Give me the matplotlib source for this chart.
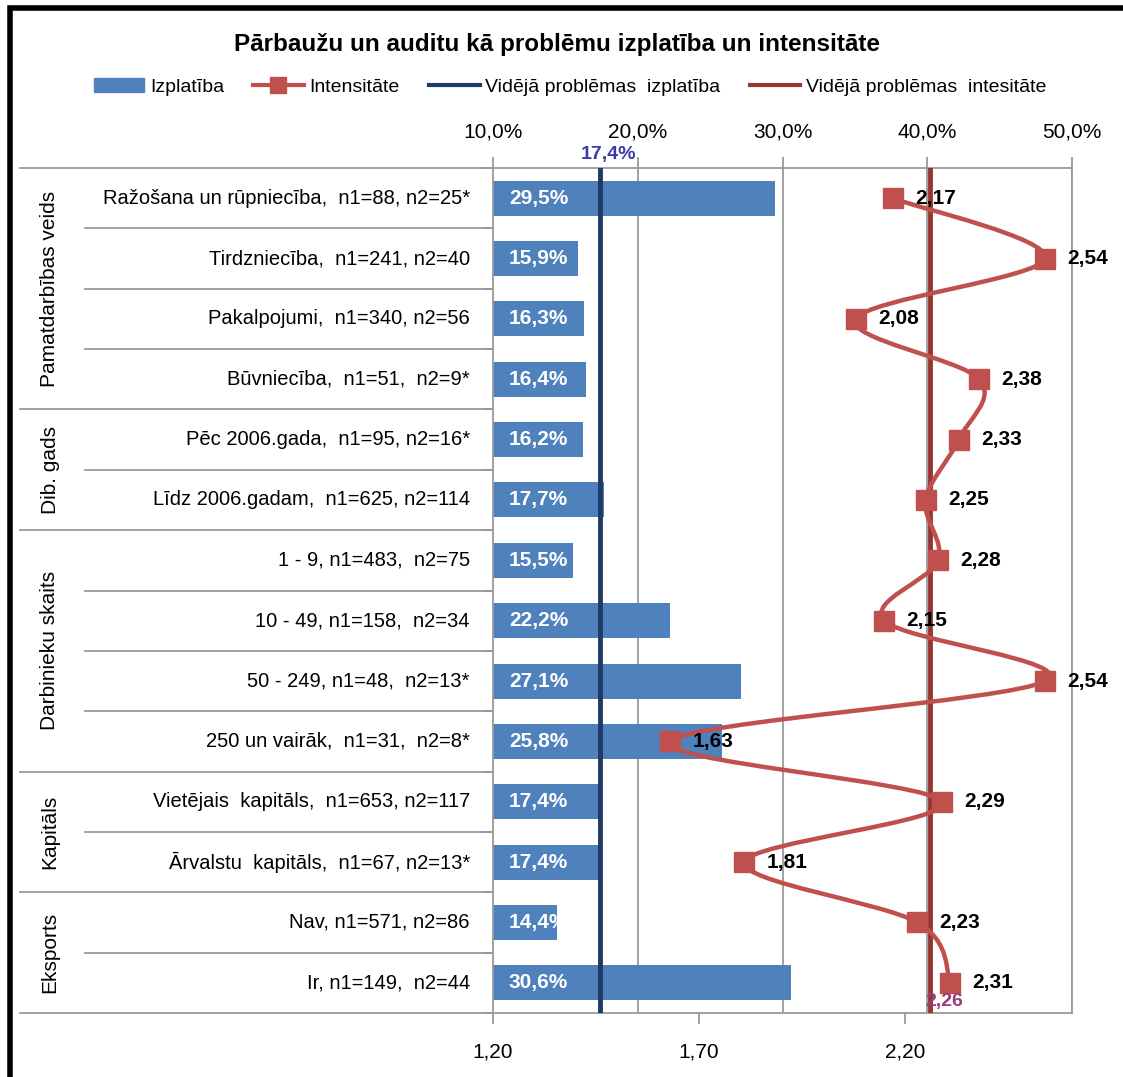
import matplotlib
matplotlib.use('Agg')
import matplotlib.pyplot as plt
from matplotlib.path import Path
from matplotlib.patches import PathPatch, Rectangle, Patch
from matplotlib.lines import Line2D
import matplotlib.transforms as mtransforms

plt.rcParams['font.family'] = ['Liberation Sans Narrow', 'Liberation Sans', 'DejaVu Sans']

labels = ['Ražošana un rūpniecība,  n1=88, n2=25*',
          'Tirdzniecība,  n1=241, n2=40',
          'Pakalpojumi,  n1=340, n2=56',
          'Būvniecība,  n1=51,  n2=9*',
          'Pēc 2006.gada,  n1=95, n2=16*',
          'Līdz 2006.gadam,  n1=625, n2=114',
          '1 - 9, n1=483,  n2=75',
          '10 - 49, n1=158,  n2=34',
          '50 - 249, n1=48,  n2=13*',
          '250 un vairāk,  n1=31,  n2=8*',
          'Vietējais  kapitāls,  n1=653, n2=117',
          'Ārvalstu  kapitāls,  n1=67, n2=13*',
          'Nav, n1=571, n2=86',
          'Ir, n1=149,  n2=44']
izplatiba = [29.5, 15.9, 16.3, 16.4, 16.2, 17.7, 15.5, 22.2, 27.1, 25.8, 17.4, 17.4, 14.4, 30.6]
intensitate = [2.17, 2.54, 2.08, 2.38, 2.33, 2.25, 2.28, 2.15, 2.54, 1.63, 2.29, 1.81, 2.23, 2.31]
groups = [('Pamatdarbības veids', 0, 3), ('Dib. gads', 4, 5), ('Darbinieku skaits', 6, 9),
          ('Kapitāls', 10, 11), ('Eksports', 12, 13)]
vid_izpl = 17.4
vid_int = 2.26

c_bar = '#4f81bd'
c_int = '#c0504d'
c_navy = '#1f3a64'
c_dred = '#963634'
c_grid = '#9a9a9a'

W, H = 1123, 1077
fig = plt.figure(figsize=(W / 100, H / 100), dpi=100)
L, R, T, B = 493, 1072, 168, 1013
ax = fig.add_axes([L / W, 1 - B / H, (R - L) / W, (B - T) / H])

n = len(labels)
ys = list(range(n))

# vertical grid for the % axis
for g in [20, 30, 40, 50]:
    ax.axvline(g, color=c_grid, lw=1.3, zorder=0)

ax.barh(ys, izplatiba, height=0.58, color=c_bar, zorder=2)
for y, v in zip(ys, izplatiba):
    ax.text(11.1, y, f'{v:.1f}%'.replace('.', ','), color='white', fontsize=15,
            fontweight='bold', va='center', ha='left', zorder=5)

ax.axvline(vid_izpl, color=c_navy, lw=3.5, zorder=3)
ax.text(vid_izpl + 0.6, -0.58, f'{vid_izpl:.1f}%'.replace('.', ','), color='#3b3ba8',
        fontsize=14, fontweight='bold', ha='center', va='bottom', zorder=5)

ax.set_xlim(10, 50)
ax.set_ylim(n - 0.5, -0.5)
ax.set_yticks([i - 0.5 for i in range(n + 1)])
ax.set_yticklabels([])
ax.tick_params(axis='y', direction='out', length=7, color=c_grid, width=1.3)
for s in ax.spines.values():
    s.set_color(c_grid)
    s.set_linewidth(1.3)

# category labels and separators on the left
tr = mtransforms.blended_transform_factory(ax.transAxes, ax.transData)
for y, lab in zip(ys, labels):
    ax.text(-0.04, y, lab, transform=tr, ha='right', va='center', fontsize=14.5)
x_in = (85 - L) / (R - L)
x_out = (20 - L) / (R - L)
group_edges = set()
for name, a, b in groups:
    group_edges.add(a - 0.5)
    group_edges.add(b + 0.5)
    ax.text((50 - L) / (R - L), (a + b) / 2, name, transform=tr, rotation=90,
            ha='center', va='center', fontsize=15)
for i in range(n + 1):
    e = i - 0.5
    x0 = x_out if e in group_edges else x_in
    ax.plot([x0, 0], [e, e], transform=tr, color=c_grid, lw=1.3, clip_on=False)

# intensity axis
ax2 = ax.twiny()
ax2.set_xlim(1.2, 2.605)
ax2.set_ylim(n - 0.5, -0.5)
ax2.xaxis.tick_bottom()
ax2.set_xticks([1.2, 1.7, 2.2])
ax2.set_xticklabels(['1,20', '1,70', '2,20'])
ax2.tick_params(axis='x', direction='out', length=8, color=c_grid, width=1.3,
                labelsize=15, pad=13)
for s in ax2.spines.values():
    s.set_visible(False)

# percentage axis on top (after twiny, which moves it to the bottom)
ax.xaxis.tick_top()
ax.set_xticks([10, 20, 30, 40, 50])
ax.set_xticklabels([f'{t:.1f}%'.replace('.', ',') for t in [10, 20, 30, 40, 50]])
ax.tick_params(axis='x', direction='out', length=8, color=c_grid, width=1.3,
               labelsize=15, pad=11)

ax2.axvline(vid_int, color=c_dred, lw=3.5, zorder=3)

# smoothed line (Catmull-Rom style bezier through the points)
pts = list(zip(intensitate, ys))
verts = [pts[0]]
codes = [Path.MOVETO]
for i in range(n - 1):
    p0 = pts[i - 1] if i > 0 else pts[i]
    p1 = pts[i]
    p2 = pts[i + 1]
    p3 = pts[i + 2] if i + 2 < n else pts[i + 1]
    c1 = (p1[0] + (p2[0] - p0[0]) / 6, p1[1] + (p2[1] - p0[1]) / 6)
    c2 = (p2[0] - (p3[0] - p1[0]) / 6, p2[1] - (p3[1] - p1[1]) / 6)
    verts += [c1, c2, p2]
    codes += [Path.CURVE4] * 3
ax2.add_patch(PathPatch(Path(verts, codes), fill=False, ec=c_int, lw=3.2, zorder=4))
ax2.plot(intensitate, ys, 's', color=c_int, ms=14, zorder=5)
for y, v in zip(ys, intensitate):
    ax2.annotate(f'{v:.2f}'.replace('.', ','), (v, y), xytext=(16, 0),
                 textcoords='offset points', ha='left', va='center',
                 fontsize=15, fontweight='bold', zorder=6)
ax2.text(vid_int + 0.035, n - 0.55, f'{vid_int:.2f}'.replace('.', ','), color='#9b3b78',
         fontsize=14, fontweight='bold', ha='center', va='bottom', zorder=6)

# title and legend
fig.text(557 / W, 1 - 44 / H, 'Pārbaužu un auditu kā problēmu izplatība un intensitāte',
         ha='center', va='center', fontsize=17.5, fontweight='bold')
handles = [Patch(color=c_bar),
           Line2D([], [], color=c_int, lw=3, marker='s', ms=11),
           Line2D([], [], color=c_navy, lw=3),
           Line2D([], [], color=c_dred, lw=3)]
fig.legend(handles, ['Izplatība', 'Intensitāte', 'Vidējā problēmas  izplatība',
                     'Vidējā problēmas  intesitāte'],
           loc='center', bbox_to_anchor=(570 / W, 1 - 87 / H), ncol=4, frameon=False,
           fontsize=14, handlelength=2.6, handletextpad=0.3, columnspacing=1.5)

fig.patches.append(Rectangle((10 / W, -0.1), 1.2, 1.1 - 8 / H, transform=fig.transFigure,
                             fill=False, ec='black', lw=4))

fig.savefig('out.png', dpi=100)
